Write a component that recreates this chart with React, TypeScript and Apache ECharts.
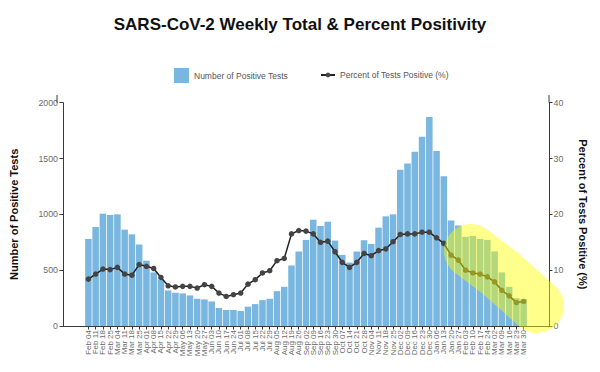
import React, { useEffect, useRef } from "react";
import * as echarts from "echarts";

const weeks = [
  "Feb 04", "Feb 11", "Feb 18", "Feb 25", "Mar 04", "Mar 11", "Mar 18", "Mar 25",
  "Apr 01", "Apr 08", "Apr 15", "Apr 22", "Apr 29", "May 06", "May 13", "May 20",
  "May 27", "Jun 03", "Jun 10", "Jun 17", "Jun 24", "Jul 01", "Jul 08", "Jul 15",
  "Jul 22", "Jul 29", "Aug 05", "Aug 12", "Aug 19", "Aug 26", "Sep 02", "Sep 09",
  "Sep 16", "Sep 23", "Sep 30", "Oct 07", "Oct 14", "Oct 21", "Oct 28", "Nov 04",
  "Nov 11", "Nov 18", "Nov 25", "Dec 02", "Dec 09", "Dec 16", "Dec 23", "Dec 30",
  "Jan 06", "Jan 13", "Jan 20", "Jan 27", "Feb 03", "Feb 10", "Feb 17", "Feb 24",
  "Mar 02", "Mar 09", "Mar 16", "Mar 23", "Mar 30",
];

const positiveTests = [
  780, 887, 1006, 994, 1000, 863, 821, 730,
  585, 480, 415, 318, 298, 292, 274, 244,
  238, 220, 161, 143, 143, 134, 173, 196,
  232, 244, 312, 351, 542, 667, 771, 952,
  896, 934, 765, 637, 568, 667, 768, 735,
  881, 982, 1000, 1399, 1455, 1560, 1696, 1872,
  1568, 1342, 945, 900, 798, 807, 779, 771,
  668, 480, 351, 249, 241,
];

const percentPositive = [
  8.4, 9.3, 10.2, 10.1, 10.5, 9.3, 9.1, 11.0,
  10.7, 10.3, 8.7, 7.2, 7.0, 7.1, 7.1, 6.8,
  7.4, 7.1, 5.9, 5.3, 5.6, 5.9, 7.5, 8.3,
  9.5, 9.9, 11.7, 12.1, 16.5, 17.1, 17.0, 16.5,
  15.0, 15.2, 13.3, 11.4, 10.5, 11.4, 13.0, 12.6,
  13.5, 13.8, 15.1, 16.4, 16.5, 16.5, 16.8, 16.8,
  15.8, 14.8, 12.7, 11.8, 10.0, 9.5, 9.3, 8.8,
  7.9, 6.4, 5.4, 4.2, 4.4,
];

const leftTicks = { min: 0, max: 2000, interval: 500 };
const rightTicks = { min: 0, max: 40, interval: 10 };

const PAD = 3;
const FONT = "'Liberation Sans', Arial, Helvetica, sans-serif";

export default function App() {
  const ref = useRef<HTMLDivElement>(null);

  useEffect(() => {
    document.body.style.margin = "0";
    if (!ref.current) return;
    const chart = echarts.init(ref.current, undefined, { renderer: "svg" });

    const padKeys = (p: string) => Array.from({ length: PAD }, (_, i) => `${p}${i}`);
    const cats = [...padKeys("_padL"), ...weeks, ...padKeys("_padR")];
    const padNulls = Array.from({ length: PAD }, () => null);
    const barData = [...padNulls, ...positiveTests, ...padNulls];
    const lineData = [...padNulls, ...percentPositive, ...padNulls];
    const isReal = (idx: number) => idx >= PAD && idx < PAD + weeks.length;

    const gridLeft = 57;
    const gridRight = 51;
    const gridTop = 102.7;
    const gridBottom = 46;
    const axisColor = "#3a3a3a";
    const labelColor = "#6b6b6b";

    chart.setOption({
      animation: false,
      backgroundColor: "#ffffff",
      textStyle: { fontFamily: FONT },
      title: {
        text: "SARS-CoV-2 Weekly Total & Percent Positivity",
        left: "center",
        top: 11,
        textStyle: { fontSize: 17, fontWeight: "bold", color: "#111", fontFamily: FONT },
      },
      legend: [
        {
          data: ["Number of Positive Tests"],
          left: 169,
          top: 63,
          icon: "rect",
          itemWidth: 15,
          itemHeight: 15,
          textStyle: { fontSize: 8.5, color: "#555", fontFamily: FONT },
        },
        {
          data: ["Percent of Tests Positive (%)"],
          left: 315,
          top: 65.5,
          itemWidth: 14,
          itemHeight: 6,
          textStyle: { fontSize: 8.5, color: "#555", fontFamily: FONT },
        },
      ],
      grid: { left: gridLeft, right: gridRight, top: gridTop, bottom: gridBottom, containLabel: false },
      xAxis: {
        type: "category",
        data: cats,
        boundaryGap: true,
        axisLine: { show: true, lineStyle: { color: axisColor, width: 1 } },
        axisTick: {
          show: true,
          alignWithLabel: true,
          length: 3.5,
          interval: (idx: number) => isReal(idx),
          lineStyle: { color: axisColor },
        },
        axisLabel: {
          interval: 0,
          rotate: 90,
          fontSize: 8,
          color: labelColor,
          margin: 4,
          fontFamily: FONT,
          formatter: (v: string) => (v.startsWith("_pad") ? "" : v),
        },
        splitLine: { show: false },
      },
      yAxis: [
        {
          type: "value",
          min: leftTicks.min,
          max: leftTicks.max,
          interval: leftTicks.interval,
          name: "Number of Positive Tests",
          nameLocation: "middle",
          nameRotate: 90,
          nameGap: 44,
          nameTextStyle: { fontSize: 11, fontWeight: "bold", color: "#111", fontFamily: FONT },
          axisLine: { show: true, lineStyle: { color: axisColor, width: 1 } },
          axisTick: { show: true, length: 3.5, lineStyle: { color: axisColor } },
          axisLabel: {
            fontSize: 8.8,
            color: labelColor,
            margin: 5,
            fontFamily: FONT,
            formatter: (v: number) => String(v),
          },
          splitLine: { show: false },
        },
        {
          type: "value",
          min: rightTicks.min,
          max: rightTicks.max,
          interval: rightTicks.interval,
          position: "right",
          name: "Percent of Tests Positive (%)",
          nameLocation: "middle",
          nameRotate: -90,
          nameGap: 28,
          nameTextStyle: { fontSize: 11, fontWeight: "bold", color: "#111", fontFamily: FONT },
          axisLine: { show: true, lineStyle: { color: axisColor, width: 1 } },
          axisTick: { show: true, length: 3.5, lineStyle: { color: axisColor } },
          axisLabel: {
            fontSize: 8.8,
            color: labelColor,
            margin: 4.5,
            fontFamily: FONT,
            formatter: (v: number) => String(v),
          },
          splitLine: { show: false },
        },
      ],
      series: [
        {
          name: "Number of Positive Tests",
          type: "bar",
          data: barData,
          yAxisIndex: 0,
          barCategoryGap: "10%",
          itemStyle: { color: "#79b6e0" },
        },
        {
          name: "Percent of Tests Positive (%)",
          type: "line",
          data: lineData,
          yAxisIndex: 1,
          symbol: "circle",
          symbolSize: 5.5,
          itemStyle: { color: "#444444" },
          lineStyle: { color: "#222222", width: 1.5 },
        },
      ],
      graphic: [
        {
          type: "line",
          z: 50,
          shape: { x1: gridLeft, y1: 95, x2: gridLeft, y2: gridTop },
          style: { stroke: axisColor, lineWidth: 1 },
        },
        {
          type: "line",
          z: 50,
          shape: { x1: 600 - gridRight, y1: 95, x2: 600 - gridRight, y2: gridTop },
          style: { stroke: axisColor, lineWidth: 1 },
        },
        {
          type: "polyline",
          z: 100,
          shape: { points: [[471, 251], [500, 273], [537, 306]] },
          style: {
            stroke: "rgba(255,255,0,0.45)",
            lineWidth: 54,
            lineCap: "round",
            lineJoin: "round",
            fill: null,
          },
        },
      ],
    });

    return () => chart.dispose();
  }, []);

  return (
    <div
      ref={ref}
      style={{ position: "fixed", left: 0, top: 0, width: 600, height: 372 }}
    />
  );
}
